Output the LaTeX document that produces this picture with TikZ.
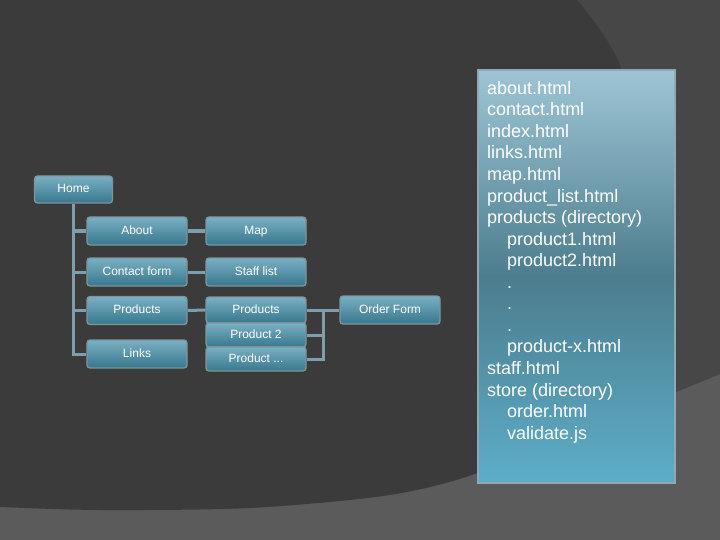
\documentclass[tikz,border=0pt]{standalone}
\usepackage{fontspec}
\setmainfont{Liberation Sans}
\usetikzlibrary{calc,positioning}

\definecolor{bglight}{HTML}{5B5B5B}
\definecolor{bgmid}{HTML}{474747}
\definecolor{bgdark}{HTML}{3B3B3B}
\definecolor{boxtop}{HTML}{7AB0C3}
\definecolor{boxbot}{HTML}{37778D}
\definecolor{boxedge}{HTML}{7F959E}
\definecolor{linkcol}{HTML}{7E9EAB}
\definecolor{paneltop}{HTML}{9EC5D5}
\definecolor{panelmid}{HTML}{4C7D8E}
\definecolor{panelbot}{HTML}{5DADC8}
\definecolor{paneledge}{HTML}{8FA9B3}

\begin{document}
\begin{tikzpicture}[x=1pt,y=-1pt,
  box/.style={rectangle, rounded corners=3pt, draw=boxedge, line width=1.3pt,
    top color=boxtop, bottom color=boxbot, text=white,
    font=\fontsize{12}{14}\selectfont, text height=1.5ex, text depth=.25ex,
    minimum width=100pt, minimum height=28pt, inner sep=0pt},
  link/.style={draw=linkcol, line width=3pt},
  panel/.style={rectangle, draw=paneledge, line width=2pt,
    top color=paneltop, bottom color=panelbot, middle color=panelmid, inner sep=0pt}]
  \useasboundingbox (0,0) rectangle (720,540);
  % background
  \fill[bglight] (0,0) rectangle (720,540);
  \fill[bgmid] (540,0) -- (720,0) -- (720,374) -- (560,440) -- cycle;
  \fill[bgdark] plot[smooth] coordinates {(577,0) (620,65) (655,200) (640,330) (560,430) (480,472) (390,495) (250,508) (100,510) (0,507)} -- (0,0) -- cycle;

  % site map
  \node[box, minimum width=78pt, minimum height=27pt] (home) at (73.5,189.5) {Home};
  \node[box] (about) at (137,231) {About};
  \node[box] (map) at (256,231) {Map};
  \node[box] (contact) at (137,272) {Contact form};
  \node[box] (staff) at (256,272) {Staff list};
  \node[box] (products) at (137,310.5) {Products};
  \node[box] (links) at (137,354) {Links};
  \node[box, minimum height=26pt] (prodlist) at (256,310) {Products};
  \node[box, minimum height=24pt] (prodtwo) at (256,335) {Product 2};
  \node[box, minimum height=24pt] (prodmore) at (256,359) {Product ...};
  \node[box] (order) at (390,310) {Order Form};

  \draw[link] (home.south) |- (links.west);
  \foreach \n in {about,contact,products}
    \draw[link] (home.south |- \n.west) -- (\n.west);
  \draw[link] (about) -- (map);
  \draw[link] (contact) -- (staff);
  \draw[link] (products) -- (prodlist);
  \draw[link] (prodlist) -- (order);
  \coordinate (bus) at ($(prodlist.east)!0.5!(order.west)$);
  \draw[link] (prodtwo.east) -| (bus);
  \draw[link] (prodmore.east) -| (bus);

  % file list
  \node[panel, minimum width=197pt, minimum height=413pt, anchor=north west] (files) at (477,69) {};
  \node[anchor=north west, align=left, inner sep=0pt, text=white,
    font=\fontsize{18}{21.56}\selectfont] (filelist) at ($(files.north west)+(10,12)$)
    {about.html\\
     contact.html\\
     index.html\\
     links.html\\
     map.html\\
     product\_list.html\\
     products (directory)\\
     \hspace*{20pt}product1.html\\
     \hspace*{20pt}product2.html\\
     \hspace*{20pt}.\\
     \hspace*{20pt}.\\
     \hspace*{20pt}.\\
     \hspace*{20pt}product-x.html\\
     staff.html\\
     store (directory)\\
     \hspace*{20pt}order.html\\
     \hspace*{20pt}validate.js};
\end{tikzpicture}
\end{document}
